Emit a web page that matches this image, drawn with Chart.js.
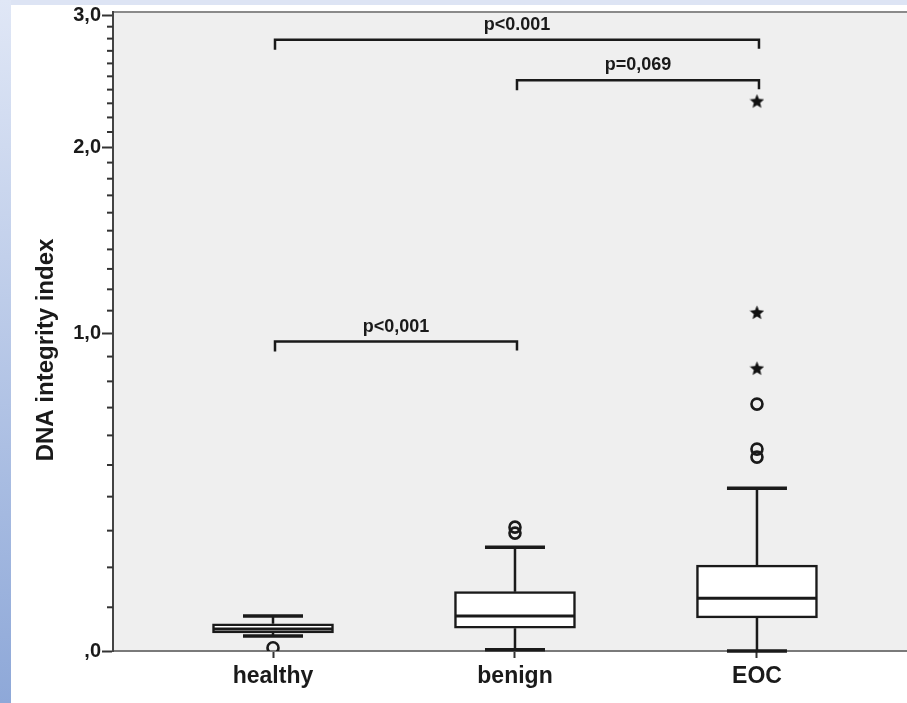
<!DOCTYPE html>
<html><head><meta charset="utf-8">
<script src="https://cdn.jsdelivr.net/npm/chart.js@4.4.0/dist/chart.umd.min.js"></script>
<style>
html,body{margin:0;padding:0;}
body{width:907px;height:703px;overflow:hidden;background:#fff;position:relative;}
#bgTop{position:absolute;left:0;top:0;width:907px;height:5px;background:#dde4f4;}
#bgLeft{position:absolute;left:0;top:0;width:11px;height:703px;background:linear-gradient(#e0e7f6,#8ea8d8);}
#wrap{position:absolute;left:0;top:0;width:907px;height:703px;}
</style></head><body>
<div id="bgTop"></div><div id="bgLeft"></div>
<div id="wrap"><canvas id="c" width="907" height="703"></canvas></div>
<script>
// ---- data ----
const categories = ["healthy", "benign", "EOC"];
const upperWhisker = [0.079, 0.254, 0.426];
const q3Values     = [0.061, 0.138, 0.206];
const medianValues = [0.049, 0.079, 0.122];
const q1Values     = [0.040, 0.051, 0.075];
const lowerWhisker = [0.033, 0.003, 0.000];
const circleOutlierGroup  = [0, 1, 1, 2, 2, 2];
const circleOutlierValues = [0.007, 0.310, 0.293, 0.713, 0.553, 0.526];
const starOutlierGroup  = [2, 2, 2];
const starOutlierValues = [2.316, 1.092, 0.852];
const yTickValues = [0, 1, 2, 3];
const yTickLabels = [",0", "1,0", "2,0", "3,0"];
const yMinorTickValues = [];
for (let k = 1; k < 30; k++) if (k % 10) yMinorTickValues.push(k / 10);
const bracketFrom   = [0, 1, 0];
const bracketTo     = [2, 2, 1];
const bracketLevel  = [2.79, 2.47, 0.963];
const bracketLabels = ["p<0.001", "p=0,069", "p<0,001"];
const yTitle = "DNA integrity index";

// log(1+x) transform used by the SPSS-like axis
const T = v => Math.log1p(v);

function makeStar(size) {
  const c = document.createElement('canvas'); c.width = c.height = size;
  const g = c.getContext('2d'); g.fillStyle = '#111'; g.beginPath();
  const cx = size / 2, cy = size / 2 + 0.6, R = size / 2, r = R * 0.45;
  for (let k = 0; k < 10; k++) {
    const a = -Math.PI / 2 + k * Math.PI / 5, rr = k % 2 ? r : R;
    g.lineTo(cx + rr * Math.cos(a), cy + rr * Math.sin(a));
  }
  g.closePath(); g.fill(); return c;
}
const starImg = makeStar(15);

const FONT = "'Liberation Sans', Arial, sans-serif";
const INK = '#1a1a1a';

const boxPlugin = {
  id: 'boxPlugin',
  beforeDraw(chart) {
    const {ctx, chartArea: a} = chart;
    ctx.save();
    ctx.fillStyle = '#efefef';
    ctx.fillRect(a.left, a.top, a.right - a.left, a.bottom - a.top);
    ctx.strokeStyle = '#8a8a8a'; ctx.lineWidth = 2;
    ctx.beginPath(); ctx.moveTo(a.left, a.top); ctx.lineTo(a.right, a.top); ctx.stroke();
    ctx.restore();
  },
  beforeDatasetsDraw(chart) {
    const {ctx, scales: {x, y}} = chart;
    ctx.save(); ctx.strokeStyle = INK; ctx.lineWidth = 2.5;
    categories.forEach((c, i) => {
      const px = x.getPixelForValue(i + 1);
      ctx.beginPath();
      ctx.moveTo(px, y.getPixelForValue(T(q3Values[i])));
      ctx.lineTo(px, y.getPixelForValue(T(upperWhisker[i])));
      ctx.moveTo(px, y.getPixelForValue(T(q1Values[i])));
      ctx.lineTo(px, y.getPixelForValue(T(lowerWhisker[i])));
      ctx.stroke();
    });
    ctx.restore();
  },
  afterDatasetsDraw(chart) {
    const {ctx, scales: {x, y}} = chart;
    const meta = chart.getDatasetMeta(0);
    ctx.save(); ctx.strokeStyle = INK;
    categories.forEach((c, i) => {
      const bar = meta.data[i];
      const px = x.getPixelForValue(i + 1);
      const half = bar.width / 2;
      ctx.lineWidth = 3;
      const my = y.getPixelForValue(T(medianValues[i]));
      ctx.beginPath(); ctx.moveTo(px - half + 1, my); ctx.lineTo(px + half - 1, my); ctx.stroke();
      ctx.lineWidth = 3.5;
      [upperWhisker[i], lowerWhisker[i]].forEach(v => {
        const wy = y.getPixelForValue(T(v));
        ctx.beginPath(); ctx.moveTo(px - 30, wy); ctx.lineTo(px + 30, wy); ctx.stroke();
      });
    });
    // minor ticks on y axis
    ctx.strokeStyle = '#333'; ctx.lineWidth = 2;
    yMinorTickValues.forEach(v => {
      const ty = y.getPixelForValue(T(v));
      ctx.beginPath(); ctx.moveTo(y.right - 6, ty); ctx.lineTo(y.right, ty); ctx.stroke();
    });
    // significance brackets
    ctx.strokeStyle = INK; ctx.lineWidth = 2.5; ctx.fillStyle = INK;
    ctx.font = "bold 18px " + FONT; ctx.textAlign = 'center'; ctx.textBaseline = 'alphabetic';
    bracketLabels.forEach((lab, k) => {
      const x1 = x.getPixelForValue(bracketFrom[k] + 1) + 2;
      const x2 = x.getPixelForValue(bracketTo[k] + 1) + 2;
      const by = y.getPixelForValue(T(bracketLevel[k]));
      ctx.beginPath();
      ctx.moveTo(x1, by + 10); ctx.lineTo(x1, by); ctx.lineTo(x2, by); ctx.lineTo(x2, by + 9);
      ctx.stroke();
      ctx.fillText(lab, (x1 + x2) / 2, by - 10);
    });
    ctx.restore();
  },
  afterDraw(chart) {
    const {ctx} = chart;
    ctx.save();
    ctx.translate(46, 350); ctx.rotate(-Math.PI / 2);
    ctx.fillStyle = INK; ctx.font = "bold 24px " + FONT;
    ctx.textAlign = 'center'; ctx.textBaseline = 'middle';
    ctx.fillText(yTitle, 0, 0);
    ctx.restore();
  }
};

const boxData = categories.map((c, i) => ({x: i + 1, y: [T(q1Values[i]), T(q3Values[i])]}));
const circleData = circleOutlierValues.map((v, k) => ({x: circleOutlierGroup[k] + 1, y: T(v)}));
const starData = starOutlierValues.map((v, k) => ({x: starOutlierGroup[k] + 1, y: T(v)}));

new Chart(document.getElementById('c'), {
  type: 'bar',
  data: {
    datasets: [
      {type: 'bar', data: boxData, backgroundColor: '#ffffff', borderColor: INK,
       borderWidth: 2.5, borderSkipped: false, barThickness: 121},
      {type: 'scatter', data: circleData, pointStyle: 'circle', pointRadius: 5.5,
       pointBorderWidth: 2.6, pointBackgroundColor: 'rgba(0,0,0,0)', pointBorderColor: INK},
      {type: 'scatter', data: starData, pointStyle: starImg}
    ]
  },
  options: {
    responsive: false, animation: false,
    layout: {autoPadding: false, padding: {top: 12, left: 0, right: 0, bottom: 0}},
    plugins: {legend: {display: false}, tooltip: {enabled: false}},
    scales: {
      x: {
        type: 'linear', offset: false, min: 0.3388, max: 3.620,
        afterBuildTicks: s => { s.ticks = categories.map((c, i) => ({value: i + 1})); },
        afterFit: s => { s.height = 52; s.paddingLeft = 0; s.paddingRight = 0; },
        ticks: {callback: v => categories[v - 1], color: INK, padding: 5,
                font: {family: FONT, size: 23, weight: 'bold'}, maxRotation: 0, autoSkip: false},
        grid: {offset: false, drawOnChartArea: false, drawTicks: true, tickLength: 7, tickColor: '#333', tickWidth: 2},
        border: {color: '#7a7a7a', width: 2}
      },
      y: {
        type: 'linear', min: 0, max: 1.393,
        afterBuildTicks: s => { s.ticks = yTickValues.map(v => ({value: T(v)})); },
        afterFit: s => { s.width = 113; s.paddingTop = 0; s.paddingBottom = 0; },
        ticks: {callback: (v, idx) => yTickLabels[idx], color: INK, padding: 1,
                font: {family: FONT, size: 20, weight: 'bold'}, autoSkip: false},
        grid: {drawOnChartArea: false, drawTicks: true, tickLength: 11, tickColor: '#333', tickWidth: 2},
        border: {color: '#444', width: 2},
        title: {display: false}
      }
    }
  },
  plugins: [boxPlugin]
});
</script>
</body></html>
